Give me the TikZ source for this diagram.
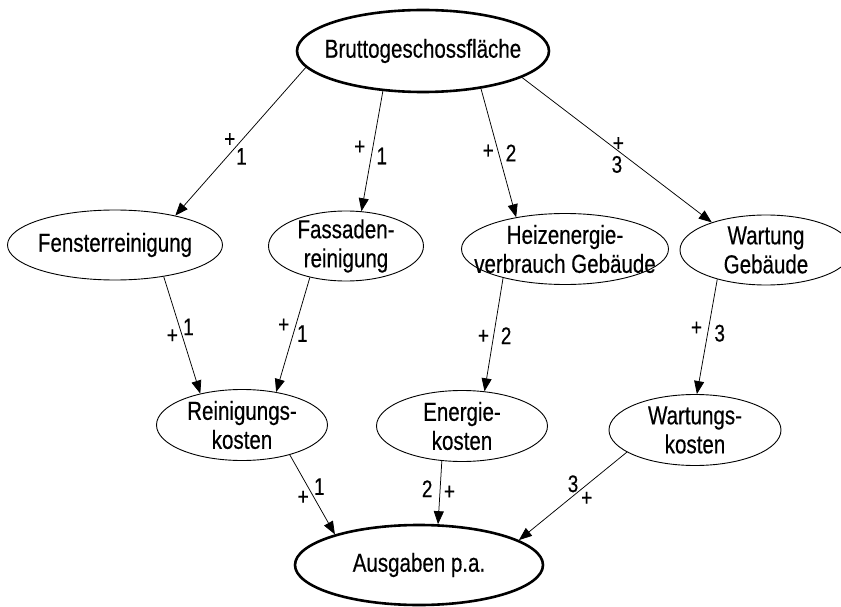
\documentclass[tikz,border=0pt]{standalone}
\usepackage{fontspec}
\setmainfont{Liberation Sans}[FakeStretch=0.79,FakeBold=0.4]
\usetikzlibrary{shapes.geometric,arrows.meta}
\begin{document}
\begin{tikzpicture}[x=1pt,y=-1pt,
  boxtext/.style={align=center, inner sep=0pt, font=\fontsize{26}{29}\selectfont},
  box/.style={ellipse, draw, line width=0.9pt, inner sep=0pt,
              label={[boxtext]center:{#1}}},
  mainbox/.style={box=#1, line width=2.6pt},
  link/.style={-{Triangle[length=13pt,width=10pt]}, line width=0.75pt},
  lbl/.style={font=\fontsize{24}{24}\selectfont, inner sep=0pt}]
\useasboundingbox (0,0) rectangle (841,607);

% variables (ellipse size fixed, text set as a centred label)
\node[mainbox={Bruttogeschossfläche}, minimum width=252pt, minimum height=82pt] (bgf) at (423,51) {};
\node[box={Fensterreinigung}, minimum width=215pt, minimum height=70pt] (fen) at (115,245) {};
\node[box={Fassaden-\\reinigung}, minimum width=155pt, minimum height=70pt] (fas) at (346,246) {};
\node[box={Heizenergie-\\verbrauch Gebäude}, minimum width=207pt, minimum height=71pt] (hei) at (565,249) {};
\node[box={Wartung\\Gebäude}, minimum width=172pt, minimum height=70pt] (wag) at (766,250) {};
\node[box={Reinigungs-\\kosten}, minimum width=171pt, minimum height=71pt] (rko) at (242,425) {};
\node[box={Energie-\\kosten}, minimum width=171pt, minimum height=71pt] (eko) at (462,426) {};
\node[box={Wartungs-\\kosten}, minimum width=172pt, minimum height=71pt] (wko) at (695,430) {};
\node[mainbox={Ausgaben p.a.}, minimum width=248pt, minimum height=80pt] (aus) at (419,565) {};

% causal links with polarity and delay labels
\draw[link] (bgf.188.7) -- (fen.26.9)
  node[lbl,pos=.49,xshift=-12pt]{+} node[lbl,pos=.60,xshift=14pt]{1};
\draw[link] (bgf.225) -- (fas.66.8)
  node[lbl,pos=.47,xshift=-13pt]{+} node[lbl,pos=.54,xshift=10.5pt]{1};
\draw[link] (bgf.327.7) -- (hei.147.3)
  node[lbl,pos=.49,xshift=-10pt]{+} node[lbl,pos=.50,xshift=12.5pt]{2};
\draw[link] (bgf.345.4) -- (wag.153.4)
  node[lbl,pos=.46,xshift=9pt]{+} node[lbl,pos=.60,xshift=-19pt]{3};

\draw[link] (fen.327.4) -- (rko.143.7)
  node[lbl,pos=.51,xshift=-10pt]{+} node[lbl,pos=.43,xshift=9pt]{1};
\draw[link] (fas.221.5) -- (rko.44)
  node[lbl,pos=.42,xshift=-12pt]{+} node[lbl,pos=.49,xshift=9pt]{1};
\draw[link] (hei.205.4) -- (eko.57.5)
  node[lbl,pos=.52,xshift=-10pt]{+} node[lbl,pos=.51,xshift=12.5pt]{2};
\draw[link] (wag.211.1) -- (wko.87)
  node[lbl,pos=.43,xshift=-12pt]{+} node[lbl,pos=.47,xshift=12pt]{3};

\draw[link] (rko.328) -- (aus.160)
  node[lbl,pos=.54,xshift=-11pt]{+} node[lbl,pos=.40,xshift=11.5pt]{1};
\draw[link] (eko.240.3) -- (aus.65.2)
  node[lbl,pos=.44,xshift=-13pt]{2} node[lbl,pos=.50,xshift=9.5pt]{+};
\draw[link] (wko.198.2) -- (aus.14)
  node[lbl,pos=.36,xshift=-15pt]{3} node[lbl,pos=.53,xshift=17pt]{+};
\end{tikzpicture}
\end{document}
